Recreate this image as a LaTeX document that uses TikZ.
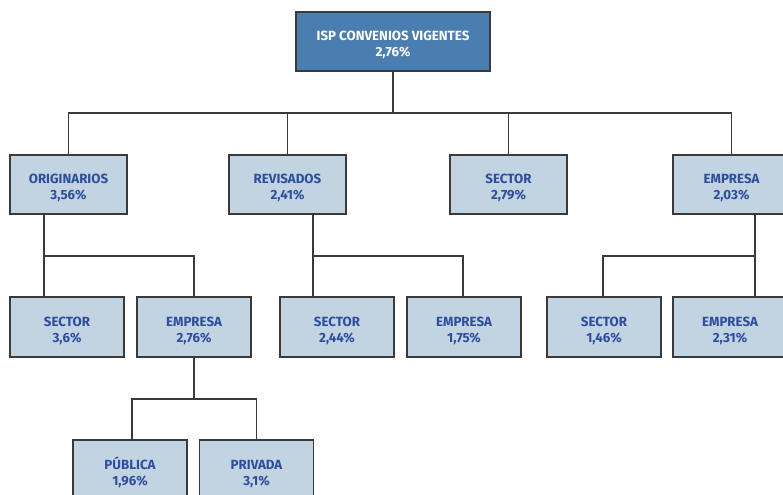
\documentclass[tikz,border=0pt]{standalone}
\usepackage{fontspec}
\setmainfont{Fira Sans}
\definecolor{topfill}{HTML}{4A7EB0}
\definecolor{boxfill}{HTML}{C2D3E2}
\definecolor{txt}{HTML}{2D4E9F}
\definecolor{edge}{HTML}{3A3A3A}
\newcommand{\tstrut}{\rule{0pt}{17bp}}
\tikzset{
  box/.style={draw=edge, line width=1.3bp, fill=boxfill, text=txt, font=\fontsize{13.3bp}{16bp}\selectfont\bfseries, align=center, inner sep=0pt, minimum width=117bp, minimum height=59bp},
  boxb/.style={box, minimum width=114bp, minimum height=60bp},
  topbox/.style={box, fill=topfill, text=white, minimum width=194bp},
  conn/.style={draw=edge, line width=1.3bp}
}
\begin{document}
\begin{tikzpicture}[x=1bp,y=-1bp]
\useasboundingbox (0,0) rectangle (783,495);
\clip (0,0) rectangle (783,495);
\fill[white] (0,0) rectangle (783,495);
% nodes
\node[topbox] (top) at (393,41.5) {\tstrut ISP CONVENIOS VIGENTES\\2,76\%};
\node[box] (orig) at (68.5,184.5) {\tstrut ORIGINARIOS\\3,56\%};
\node[box] (rev) at (287.5,184.5) {\tstrut REVISADOS\\2,41\%};
\node[box] (sec) at (508.5,184.5) {\tstrut SECTOR\\2,79\%};
\node[box] (emp) at (731.5,184.5) {\tstrut EMPRESA\\2,03\%};
\node[boxb] (osec) at (67,327) {\tstrut SECTOR\\3,6\%};
\node[boxb] (oemp) at (194,327) {\tstrut EMPRESA\\2,76\%};
\node[boxb] (rsec) at (337,327) {\tstrut SECTOR\\2,44\%};
\node[boxb] (remp) at (464,327) {\tstrut EMPRESA\\1,75\%};
\node[boxb] (esec) at (604,327) {\tstrut SECTOR\\1,46\%};
\node[boxb] (eemp) at (730,327) {\tstrut EMPRESA\\2,31\%};
\node[boxb] (pub) at (130,470) {\tstrut PÚBLICA\\1,96\%};
\node[boxb] (priv) at (256.5,470) {\tstrut PRIVADA\\3,1\%};
% junctions
\coordinate (j0) at (393,113);
\coordinate (oj) at (44,256);
\coordinate (rj) at (313,256);
\coordinate (ej) at (755,256);
\coordinate (pj) at (194,399);
% connectors
\draw[conn] (top.south) -- (j0);
\draw[conn] (orig.north) |- (emp.north |- j0) -- (emp.north);
\draw[conn] (rev.north) -- (rev.north |- j0);
\draw[conn] (sec.north) -- (sec.north |- j0);
\draw[conn] (orig.south -| oj) -- (osec.north -| oj);
\draw[conn] (oj) -| (oemp.north);
\draw[conn] (rev.south -| rj) -- (rsec.north -| rj);
\draw[conn] (rj) -| ([xshift=-1bp]remp.north);
\draw[conn] (emp.south -| ej) -- (eemp.north -| ej);
\draw[conn] (ej) -| ([xshift=-1bp]esec.north);
\draw[conn] (oemp.south) -- (pj);
\draw[conn] ([xshift=2bp]pub.north) |- (pj) -| (priv.north);
\end{tikzpicture}
\end{document}
